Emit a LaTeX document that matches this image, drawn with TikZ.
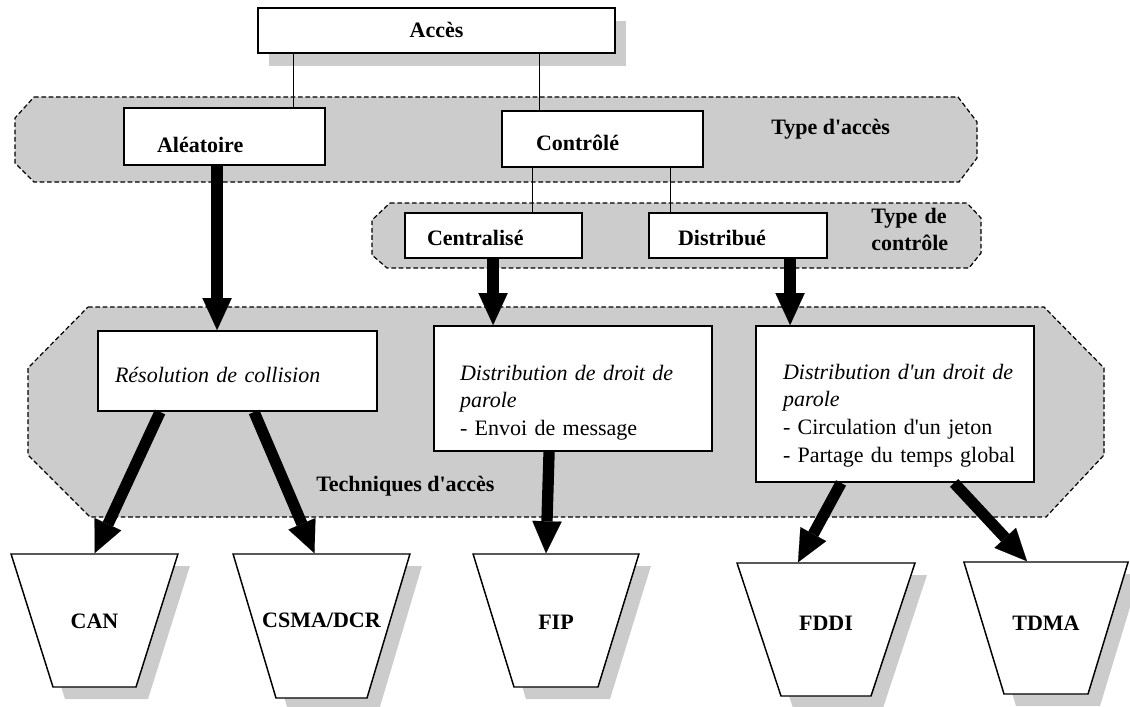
\documentclass[tikz,border=0pt]{standalone}
\usepackage{fontspec}
\setmainfont{Liberation Serif}[Ligatures=TeXOff]
\usetikzlibrary{arrows.meta,shapes.geometric,shadows,calc}
\definecolor{bannergray}{RGB}{204,204,204}
\definecolor{shadowgray}{RGB}{204,204,204}
\newcommand{\dfont}{\fontsize{16.5}{20.8}\selectfont}
\begin{document}
\begin{tikzpicture}[x=0.75pt,y=-0.75pt,
  banner/.style={draw=black, dash pattern=on 3.5pt off 2pt, line width=0.9pt, fill=bannergray},
  box/.style={draw=black, line width=1.4pt, fill=white, inner ysep=0pt, align=left},
  conn/.style={draw=black, line width=0.8pt},
  bigarrow/.style={draw=black, line width=8.5pt, -{Triangle[length=24pt,width=22pt,line width=0.1pt]}},
  trap/.style={trapezium, shape border rotate=180,
    draw=black, line width=1.1pt, fill=white, font=\dfont\bfseries, inner sep=0pt,
    drop shadow={shadow xshift=9pt, shadow yshift=-9pt, fill=shadowgray, opacity=1}},
  lbl/.style={font=\dfont\bfseries, inner sep=0pt, anchor=base west}
]
\useasboundingbox (0,0) rectangle (1130,706);

% gray dashed bands
\draw[banner] (34,97) -- (958,97) -- (977,122) -- (977,158) -- (959,182) -- (34,182) -- (15,163) -- (15,118) -- cycle;
\draw[banner] (390,203) -- (967,203) -- (981,218) -- (981,253) -- (969,268) -- (387,268) -- (372,255) -- (372,220) -- cycle;
\draw[banner] (88,307) -- (1044,307) -- (1104,368) -- (1104,455) -- (1046,517) -- (90,517) -- (28,455) -- (28,368) -- cycle;

% band labels
\node[lbl] (typeacc) at (771,135) {Type d'accès};
\node[lbl, text width=62pt, align=left] (typectrl) at (871,223) {Type de\\contrôle};
\node[lbl] (techacc) at (316,491) {Techniques d'accès};

% boxes
\node[box, align=center, font=\dfont\bfseries, minimum width=267.75pt, minimum height=33.75pt,
  text height=11.25pt, text depth=0pt,
  drop shadow={shadow xshift=8.25pt, shadow yshift=-9.75pt, fill=shadowgray, opacity=1}]
  (acces) at (436.5,30.5) {Accès};
\node[box, font=\dfont\bfseries, minimum width=150.75pt, minimum height=42.75pt,
  inner xsep=24.75pt, text width=101.25pt, text height=23.25pt, text depth=0pt]
  (alea) at (224.5,136.5) {Aléatoire};
\node[box, font=\dfont\bfseries, minimum width=150.75pt, minimum height=42pt,
  inner xsep=25.5pt, text width=99.75pt, text height=18pt, text depth=0pt]
  (ctrl) at (602.5,139) {Contrôlé};
\node[box, font=\dfont\bfseries, minimum width=132.75pt, minimum height=33.75pt,
  inner xsep=16.5pt, text width=99.75pt, text height=14.25pt, text depth=0pt]
  (cent) at (493.5,235.5) {Centralisé};
\node[box, font=\dfont\bfseries, minimum width=133.5pt, minimum height=33.75pt,
  inner xsep=21.75pt, text width=90pt, text height=14.25pt, text depth=0pt]
  (dist) at (738,235.5) {Distribué};
\node[box, font=\dfont\itshape, minimum width=209.25pt, minimum height=60pt,
  inner xsep=12.75pt, text width=183.75pt, text height=16.5pt, text depth=0pt]
  (res) at (237.5,371) {\mbox{Résolution de collision}};
\node[box, font=\dfont, minimum width=208.5pt, minimum height=93.75pt,
  inner xsep=19.5pt, text width=169.5pt, text height=0pt, text depth=12.75pt]
  (mid) at (573,388.5) {\textit{\mbox{Distribution de droit de}}\\\textit{parole}\\\mbox{- Envoi de message}};
\node[box, font=\dfont, minimum width=208.5pt, minimum height=117pt,
  inner xsep=20.25pt, text width=168pt, text height=0pt, text depth=37.5pt]
  (rgt) at (895,404) {\textit{\mbox{Distribution d'un droit de}}\\\textit{parole}\\\mbox{- Circulation d'un jeton}\\\mbox{- Partage du temps global}};

% buckets (text box = narrow side x full height)
\node[trap, trapezium left angle=72.5, trapezium right angle=72.5,
  text height=55.5pt, text depth=44.25pt] (can) at (94.5,620.5) {\makebox[62.25pt]{CAN}};
\node[trap, trapezium left angle=73.4, trapezium right angle=73.4,
  text height=54.75pt, text depth=53.25pt] (csma) at (321.5,626) {\makebox[68.25pt]{CSMA/DCR}};
\node[trap, trapezium left angle=72.9, trapezium right angle=72.9,
  text height=56.25pt, text depth=43.5pt] (fip) at (556,620.5) {\makebox[63pt]{FIP}};
\node[trap, trapezium left angle=71.7, trapezium right angle=71.7,
  text height=50.25pt, text depth=49.5pt] (fddi) at (826,629.5) {\makebox[67.5pt]{FDDI}};
\node[trap, trapezium left angle=73.1, trapezium right angle=73.1,
  text height=51pt, text depth=48pt] (tdma) at (1046,628) {\makebox[63pt]{TDMA}};

% thin connectors
\draw[conn] ($(acces.south west)+(36,0)$) -- ($(alea.north west)+(170,0)$);
\draw[conn] ($(acces.south west)+(282,0)$) -- ($(ctrl.north west)+(38,0)$);
\draw[conn] ($(ctrl.south west)+(31,0)$) -- ($(cent.north west)+(128,0)$);
\draw[conn] ($(ctrl.south west)+(169,0)$) -- ($(dist.north west)+(22,0)$);

% thick arrows
\draw[bigarrow] ($(alea.south west)+(94,0)$) -- ($(res.north west)+(120,0)$);
\draw[bigarrow] ($(cent.south west)+(89,0)$) -- ($(mid.north west)+(60,0)$);
\draw[bigarrow] ($(dist.south west)+(142,0)$) -- ($(rgt.north west)+(35,0)$);
\draw[bigarrow] ($(res.south west)+(63,0)$) -- (can.north);
\draw[bigarrow] ($(res.south west)+(157,0)$) -- ($(csma.north)+(-7,0)$);
\draw[bigarrow] ($(mid.south west)+(116,0)$) -- ($(fip.north)+(-10,0)$);
\draw[bigarrow] ($(rgt.south west)+(86,0)$) -- ($(fddi.north)+(-28,0)$);
\draw[bigarrow] ($(rgt.south west)+(199,0)$) -- ($(tdma.north)+(-19,0)$);
\end{tikzpicture}
\end{document}
